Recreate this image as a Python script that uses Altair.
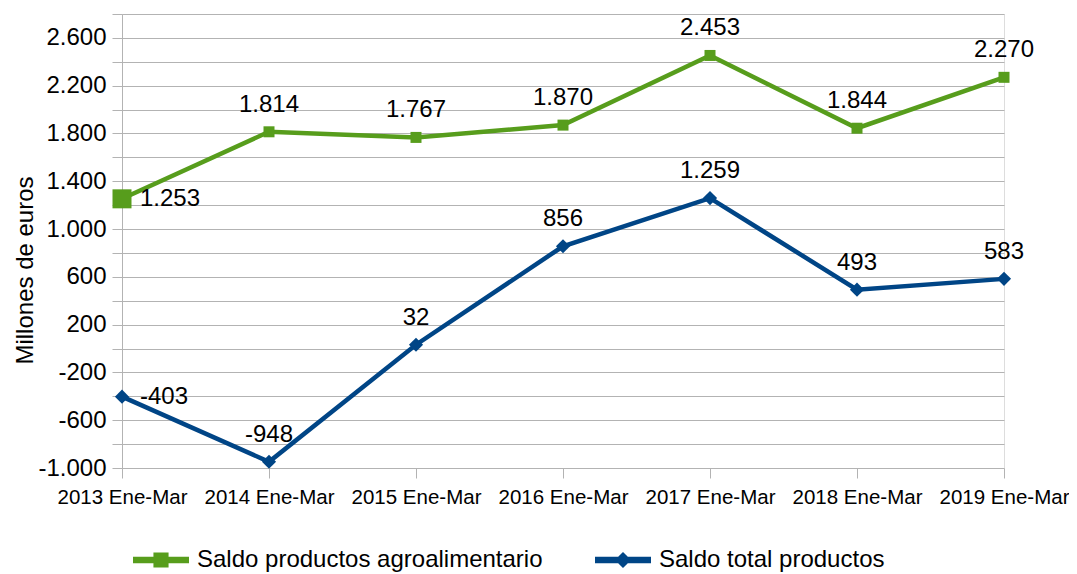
import altair as alt
import pandas as pd

periods = ["2013 Ene-Mar", "2014 Ene-Mar", "2015 Ene-Mar", "2016 Ene-Mar",
           "2017 Ene-Mar", "2018 Ene-Mar", "2019 Ene-Mar"]
agro = [1253, 1814, 1767, 1870, 2453, 1844, 2270]
total = [-403, -948, 32, 856, 1259, 493, 583]
series_names = ["Saldo productos agroalimentario", "Saldo total productos"]
y_ticks = list(range(-1000, 2801, 200))

GREEN = "#579d1c"
BLUE = "#004586"
GRID = "#b3b3b3"
FONT = "Liberation Sans"


def es_fmt(v):
    return f"{v:,}".replace(",", ".")


rows = []
for s, vals in zip(series_names, [agro, total]):
    for i, (p, v) in enumerate(zip(periods, vals)):
        rows.append({"period": p, "series": s, "value": v, "label": es_fmt(v), "first": i == 0})
df = pd.DataFrame(rows)

label_expr = ("(datum.value + 1000) % 400 == 0 && datum.value < 2800 ? "
              "(datum.value < 0 ? '-' : '') + replace(format(abs(datum.value), ','), ',', '.') : ''")

X = alt.X("period:O", sort=periods, scale=alt.Scale(type="point", padding=0),
          axis=alt.Axis(title=None, labelAngle=0, grid=False, domain=False, ticks=True,
                        tickSize=10, tickColor=GRID, labelFontSize=20.5, labelPadding=9,
                        labelColor="black"))
Y = alt.Y("value:Q", scale=alt.Scale(domain=[-1000, 2800], nice=False, zero=False),
          axis=alt.Axis(values=y_ticks, labelExpr=label_expr, title="Millones de euros",
                        tickSize=10, tickColor=GRID, domainColor=GRID, gridColor=GRID,
                        labelFontSize=24, labelPadding=6, labelColor="black",
                        titleFontSize=24, titleFontWeight="normal", titleColor="black",
                        titleX=-90, titleY=256, titleBaseline="alphabetic", titleAlign="center",
                        titleAngle=270, labelOverlap=False))

base = alt.Chart(df)
layers = []
for s, color, shape, size in [(series_names[0], GREEN, "square", 121),
                              (series_names[1], BLUE, "diamond", 200)]:
    sub = base.transform_filter(alt.datum.series == s)
    layers.append(sub.mark_line(color=color, strokeWidth=4.5).encode(x=X, y=Y))
    layers.append(sub.transform_filter("!datum.first").mark_point(
        shape=shape, filled=True, color=color, opacity=1, size=size).encode(x=X, y=Y))
    first_size = 361 if shape == "square" else size
    layers.append(sub.transform_filter("datum.first").mark_point(
        shape=shape, filled=True, color=color, opacity=1, size=first_size).encode(x=X, y=Y))
    layers.append(sub.transform_filter("!datum.first").mark_text(
        dy=-27, fontSize=24, align="center", baseline="middle", color="black", font=FONT
    ).encode(x=X, y=Y, text="label:N"))
    layers.append(sub.transform_filter("datum.first").mark_text(
        dx=18, fontSize=24, align="left", baseline="middle", color="black", font=FONT
    ).encode(x=X, y=Y, text="label:N"))

sq_path = "M-1,-0.12H1V0.12H-1Z M-0.27,-0.27H0.27V0.27H-0.27Z"
dm_path = "M-1,-0.12H1V0.12H-1Z M0,-0.29L0.29,0L0,0.29L-0.29,0Z"
legend = alt.Legend(title=None, orient="none", legendX=11, legendY=518, direction="horizontal",
                    symbolSize=3136, labelFontSize=24, labelFont=FONT, labelColor="black",
                    columnPadding=52, labelOffset=8, padding=0, symbolOpacity=1,
                    symbolStrokeWidth=0, labelLimit=0)
legend_layer = alt.Chart(df).transform_filter("false").mark_point(filled=True, opacity=1).encode(
    color=alt.Color("series:N", scale=alt.Scale(domain=series_names, range=[GREEN, BLUE]), legend=legend),
    shape=alt.Shape("series:N", scale=alt.Scale(domain=series_names, range=[sq_path, dm_path]), legend=legend),
)
layers.append(legend_layer)

chart = alt.layer(*layers).properties(
    width=882, height=454,
    autosize=alt.AutoSizeParams(type="none"),
    padding={"left": 114, "top": 6, "right": 65, "bottom": 104},
).configure_view(stroke=GRID, strokeWidth=1).configure(font=FONT).configure_axis(
    labelFont=FONT, titleFont=FONT)

chart.save("out.html", embed_options={"renderer": "svg", "actions": False})
